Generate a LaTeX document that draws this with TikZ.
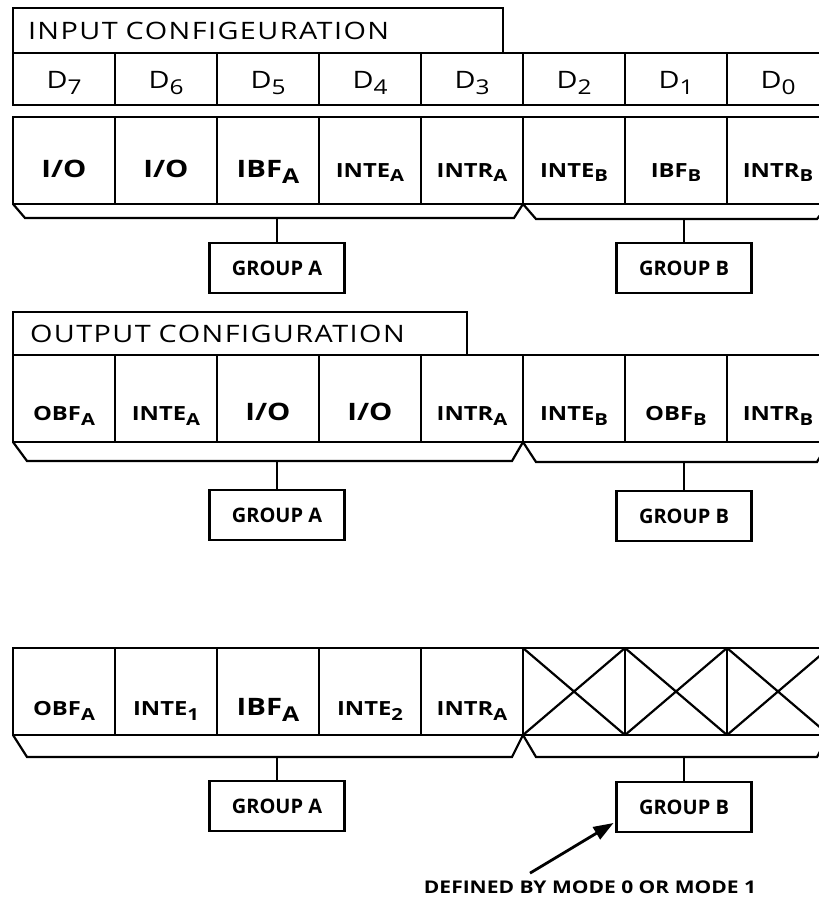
\documentclass[tikz,border=0pt]{standalone}
\usepackage{fontspec}
\usepackage{graphicx}
\setmainfont{Open Sans}
\newfontfamily\ttlfont[FakeStretch=1.2, LetterSpace=6]{Open Sans}
\newfontfamily\widefont[FakeStretch=1.2]{Open Sans}
\newfontfamily\cellfont[FakeStretch=1.22]{Open Sans}
\usetikzlibrary{arrows.meta, positioning}
\newcommand\sbs[1]{\raisebox{-0.25em}{\scalebox{0.85}{#1}}}
\newcommand\cbig{\cellfont\fontsize{24}{24}\selectfont\bfseries}
\newcommand\csml{\cellfont\fontsize{19.5}{19.5}\selectfont\bfseries}

\begin{document}
\begin{tikzpicture}[
  x=1pt, y=-1pt, line width=2.2pt,
  title/.style={draw, anchor=north west, inner xsep=15pt, inner ysep=0pt,
    outer sep=0pt, align=left, font=\ttlfont\fontsize{24}{24}\selectfont},
  dcell/.style={draw, anchor=north west, minimum width=102pt, minimum height=52pt,
    inner sep=0pt, outer sep=0pt, text height=18pt, text depth=0pt,
    font=\widefont\fontsize{24}{24}\selectfont},
  cell/.style={draw, anchor=north west, minimum width=102pt, minimum height=87pt,
    inner sep=0pt, outer sep=0pt, text depth=0pt},
  grp/.style={draw, minimum width=135pt, minimum height=50pt, inner sep=0pt,
    outer sep=0pt, font=\fontsize{20}{20}\selectfont\bfseries},
  note/.style={font=\widefont\fontsize{17.5}{17.5}\selectfont\bfseries}
]
\useasboundingbox (0,0) rectangle (819,900);

% input configuration
\node[title, text width=460pt, minimum height=45pt] (tin) at (13,8) {INPUT CONFIGEURATION};
\foreach \i in {0,...,7}{
  \pgfmathtruncatemacro\b{7-\i}
  \node[dcell] (d\b) at ({13+102*\i},53) {D\sbs{\b}};
}
\foreach \t [count=\i from 0] in {\cbig I/O, \cbig I/O, \cbig IBF\sbs{A}, \csml INTE\sbs{A},
    \csml INTR\sbs{A}, \csml INTE\sbs{B}, \csml IBF\sbs{B}, \csml INTR\sbs{B}}{
  \pgfmathtruncatemacro\b{7-\i}
  \node[cell, text height=33pt] (in\b) at ({13+102*\i},117) {\t};
}
\draw (in7.south west) -- ++(12,14) coordinate (ba1)
  -- ([xshift=-9pt, yshift=-14pt]in3.south east) -- (in3.south east)
  -- ([xshift=13pt, yshift=-15pt]in3.south east) coordinate (bb1)
  -- ([xshift=-12pt, yshift=-15pt]in0.south east) -- (in0.south east);
\node[grp] (ga1) at (277,268) {GROUP A};
\node[grp] (gb1) at (684,268) {GROUP B};
\draw (ga1.north) -- (ga1.north |- ba1);
\draw (gb1.north) -- (gb1.north |- bb1);

% output configuration
\node[title, text width=420pt, minimum height=43pt, inner xsep=17pt] (tout) at (13,312) {OUTPUT CONFIGURATION};
\foreach \t [count=\i from 0] in {\csml OBF\sbs{A}, \csml INTE\sbs{A}, \cbig I/O, \cbig I/O,
    \csml INTR\sbs{A}, \csml INTE\sbs{B}, \csml OBF\sbs{B}, \csml INTR\sbs{B}}{
  \pgfmathtruncatemacro\b{7-\i}
  \node[cell, text height=44pt] (out\b) at ({13+102*\i},355) {\t};
}
\draw (out7.south west) -- ++(14,19) coordinate (ba2)
  -- ([xshift=-11pt, yshift=-19pt]out3.south east) -- (out3.south east)
  -- ([xshift=13pt, yshift=-20pt]out3.south east) coordinate (bb2)
  -- ([xshift=-12pt, yshift=-20pt]out0.south east) -- (out0.south east);
\node[grp] (ga2) at (277,515) {GROUP A};
\node[grp] (gb2) at (684,516) {GROUP B};
\draw (ga2.north) -- (ga2.north |- ba2);
\draw (gb2.north) -- (gb2.north |- bb2);

% bidirectional
\foreach \t [count=\i from 0] in {\csml OBF\sbs{A}, \csml INTE\sbs{1}, \cbig IBF\sbs{A},
    \csml INTE\sbs{2}, \csml INTR\sbs{A}, {}, {}, {}}{
  \pgfmathtruncatemacro\b{7-\i}
  \node[cell, text height=48pt] (bi\b) at ({13+102*\i},648) {\t};
}
\foreach \b in {0,1,2}
  \draw (bi\b.north west) -- (bi\b.south east) (bi\b.south west) -- (bi\b.north east);
\draw (bi7.south west) -- ++(14,22) coordinate (ba3)
  -- ([xshift=-11pt, yshift=-22pt]bi3.south east) -- (bi3.south east)
  -- ([xshift=13pt, yshift=-22pt]bi3.south east) coordinate (bb3)
  -- ([xshift=-12pt, yshift=-22pt]bi0.south east) -- (bi0.south east);
\node[grp] (ga3) at (277,806) {GROUP A};
\node[grp] (gb3) at (684,807) {GROUP B};
\draw (ga3.north) -- (ga3.north |- ba3);
\draw (gb3.north) -- (gb3.north |- bb3);

\node[note] (mode) at (590,887) {DEFINED BY MODE 0 OR MODE 1};
\draw[line width=2.8pt, -{Triangle[length=20pt, width=14pt]}]
  ([xshift=-60pt, yshift=3pt]mode.north) -- ([xshift=-3pt, yshift=9pt]gb3.south west);
\end{tikzpicture}
\end{document}
